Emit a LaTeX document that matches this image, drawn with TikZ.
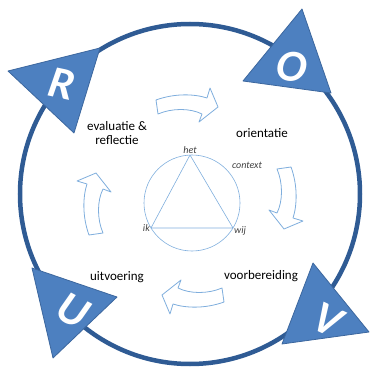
\documentclass[tikz,border=0pt]{standalone}
\usepackage{fontspec}
\setmainfont{Carlito}
\usetikzlibrary{positioning}
\definecolor{ringblue}{HTML}{2F5B94}
\definecolor{triblue}{HTML}{4D80C0}
\definecolor{triedge}{HTML}{3C679E}
\definecolor{lightline}{HTML}{7FAEDD}
\begin{document}
\begin{tikzpicture}[x=1pt, y=-1pt,
  lbl/.style={font=\fontsize{13}{14}\selectfont, align=center},
  hand/.style={font=\fontsize{10}{11}\selectfont\itshape, text=black!75, inner sep=1pt},
  tri/.style={fill=triblue, draw=triedge, line width=0.8pt, line join=round},
  letter/.style={font=\fontsize{45}{45}\selectfont\bfseries\itshape, text=white},
  bendarrow/.style={draw=lightline, fill=white, line width=0.8pt, line join=round}]
\useasboundingbox (0,0) rectangle (370,369);
% ring
\coordinate (c) at (190,194);
\draw[ringblue, line width=4.5pt] (c) circle[radius=170pt];
% triangles with the letters
\draw[tri] (8,71) -- (100,48) -- (74,133) -- cycle;
\draw[tri] (302,9) -- (331,93) -- (243,81) -- cycle;
\draw[tri] (32,268) -- (117,297) -- (53,358) -- cycle;
\draw[tri] (313,263) -- (369,332) -- (282,344) -- cycle;
\node[letter, rotate=-12] (R) at (62,84) {R};
\node[letter, rotate=-10] (O) at (292,67) {O};
\node[letter, rotate=-28] (U) at (73,311) {U};
\node[letter, rotate=-25] (V) at (328,320) {V};
% phases
\node[lbl] (eval) at (117,133) {evaluatie \&\\reflectie};
\node[lbl] (orient) at (262,133) {orientatie};
\node[lbl] (uitv) at (117,277) {uitvoering};
\node[lbl] (voorb) at (261,276) {voorbereiding};
% curved arrows
\coordinate (cc) at (190,201);
\foreach \a in {0,-90,-180,-270}
  \draw[bendarrow, rotate around={\a:(cc)}] (156,100) .. controls (175,93) and (195,94) .. (207,98)
    -- (210,88) -- (218,107) -- (199,122) -- (202,114)
    .. controls (190,108) and (172,108) .. (158,114) -- cycle;
% inner circle
\coordinate (het) at (190,155);
\coordinate (ik) at (151,228);
\coordinate (wij) at (233,228);
\draw[lightline, line width=0.6pt] (192,203) circle[radius=48pt];
\draw[lightline, line width=0.6pt, line join=round] (het) -- (ik) -- (wij) -- cycle;
\node[hand, above=0pt of het] (lhet) {het};
\node[hand, left=0pt of ik] (lik) {ik};
\node[hand, right=0pt of wij, yshift=-3pt] (lwij) {wij};
\node[hand] (lcontext) at (247,165) {context};
\end{tikzpicture}
\end{document}
